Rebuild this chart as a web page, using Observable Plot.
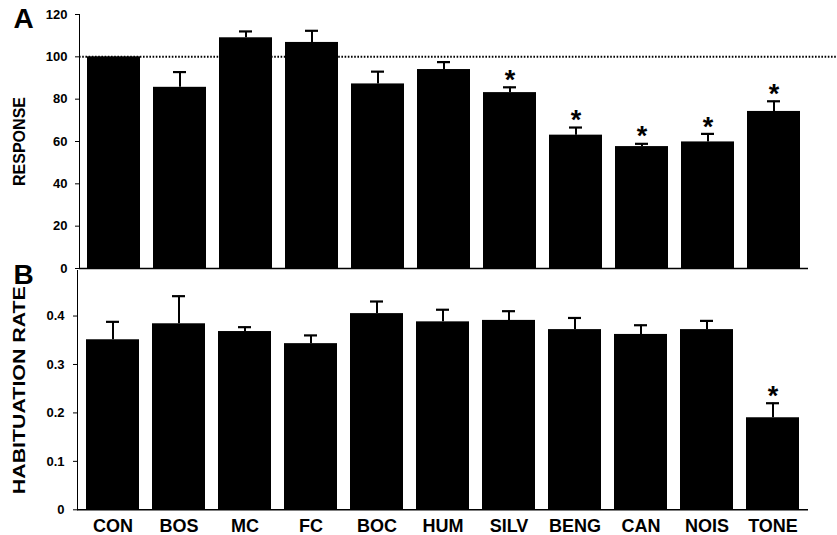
<!DOCTYPE html>
<html><head><meta charset="utf-8">
<script src="https://cdn.jsdelivr.net/npm/d3@7"></script>
<script src="https://cdn.jsdelivr.net/npm/@observablehq/plot@0.6"></script>
<style>
body{margin:0;background:#fff;}
#wrap{position:relative;width:837px;height:535px;background:#fff;}
#wrap svg{position:absolute;left:0;top:0;background:transparent;}
</style></head><body><div id="wrap"></div>
<script>
const categories = ["CON","BOS","MC","FC","BOC","HUM","SILV","BENG","CAN","NOIS","TONE"];
const responseMean = [100,85.6,109,106.8,87.2,94,83.1,63,57.6,59.8,74.2];
const responseErr = [0,7.2,3,5.5,5.8,3.5,2.5,3.6,1.3,3.8,4.8];
const habitMean = [0.351,0.384,0.368,0.343,0.405,0.388,0.391,0.372,0.362,0.372,0.19];
const habitErr = [0.037,0.057,0.009,0.017,0.025,0.025,0.019,0.024,0.019,0.018,0.03];
const sigResponse = ["SILV","BENG","CAN","NOIS","TONE"];
const sigHabit = ["TONE"];
const ticksResponse = [0,20,40,60,80,100,120];
const ticksHabit = [0,0.1,0.2,0.3,0.4];
const refLine = [100];
const panelLabels = ["A","B"];
const yTitles = ["RESPONSE","HABITUATION RATE"];

const dataA = categories.map((c,i)=>({cat:c, mean:responseMean[i], top:responseMean[i]+responseErr[i], err:responseErr[i]}));
const dataB = categories.map((c,i)=>({cat:c, mean:habitMean[i], top:habitMean[i]+habitErr[i], err:habitErr[i]}));

const W = 837, H = 535;
const labelFont = "Liberation Sans, Arial, sans-serif";

function panel({data, sig, domain, ticks, mTop, mBottom, mLeft, tickPad, letter, title, titleSize, ref, xAxis}) {
  const marks = [
    Plot.barY(data, {x:"cat", y:"mean", fill:"#000"}),
    Plot.ruleX(data.filter(d=>d.err>0), {x:"cat", y1:"mean", y2:"top", stroke:"#000", strokeWidth:2}),
    Plot.tickY(data.filter(d=>d.err>0), {x:"cat", y:"top", stroke:"#000", strokeWidth:2.2, insetLeft:20, insetRight:20}),
    Plot.ruleY([0], {stroke:"#000", strokeWidth:1.5}),
    Plot.text(data.filter(d=>sig.includes(d.cat)), {x:"cat", y:"top", text:()=>"*", dy:-7, lineAnchor:"middle", fontSize:27, fontWeight:"bold", fontFamily:labelFont, fill:"#000"}),
    Plot.text([letter], {frameAnchor:"top-left", text:d=>d, dx:23-mLeft, dy:5, lineAnchor:"middle", textAnchor:"middle", fontSize:28, fontWeight:"bold", fontFamily:labelFont, fill:"#000"}),
    Plot.text([title], {frameAnchor:"left", text:d=>d, rotate:-90, dx:19-mLeft, lineAnchor:"middle", textAnchor:"middle", fontSize:titleSize, fontWeight:"bold", fontFamily:labelFont, fill:"#000"})
  ];
  if (ref) marks.unshift(Plot.ruleY(ref, {stroke:"#000", strokeWidth:2, strokeDasharray:"1.6,1.6", insetRight:-(W-808)}));
  const svg = Plot.plot({
    width: W, height: H,
    marginTop: mTop, marginBottom: mBottom, marginLeft: mLeft, marginRight: W-808,
    style: {background:"transparent", fontFamily: labelFont, fontSize:"13px", fontWeight:"bold", color:"#000", overflow:"visible"},
    x: {domain: categories, paddingInner:0.19, paddingOuter:0.07, axis: xAxis ? "bottom" : null, tickSize:0, tickPadding:9, label:null},
    y: {domain, ticks, tickFormat: d=>String(d), tickSize:4, tickPadding:tickPad, line:true, label:null},
    marks
  });
  return svg;
}

const wrap = document.getElementById("wrap");
const svgA = panel({data:dataA, sig:sigResponse, domain:[0,120], ticks:ticksResponse, mTop:14, mBottom:H-268, mLeft:79, tickPad:8, letter:panelLabels[0], title:yTitles[0], titleSize:16, ref:refLine, xAxis:false});
const svgB = panel({data:dataB, sig:sigHabit, domain:[0,0.494], ticks:ticksHabit, mTop:270, mBottom:H-509.3, mLeft:77, tickPad:9, letter:panelLabels[1], title:yTitles[1], titleSize:17, ref:null, xAxis:true});
wrap.appendChild(svgA);
wrap.appendChild(svgB);
d3.select(svgB).selectAll('g[aria-label="x-axis tick label"]').attr("font-size", 18).attr("font-weight","bold");
d3.select(svgB).selectAll('g[aria-label="x-axis tick label"] text').style("font-size","18px");
d3.select(svgA).selectAll("text").filter(function(){return this.textContent===yTitles[0];}).attr("textLength",89).attr("lengthAdjust","spacingAndGlyphs");
d3.select(svgB).selectAll("text").filter(function(){return this.textContent===yTitles[1];}).attr("textLength",208).attr("lengthAdjust","spacingAndGlyphs");
</script></body></html>
